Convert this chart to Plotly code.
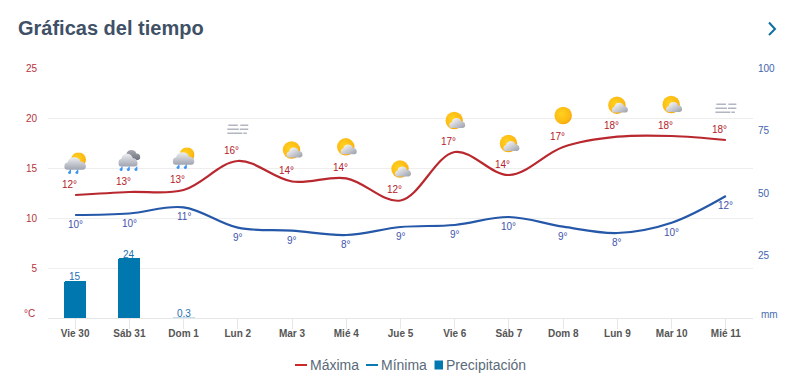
import base64
import plotly.graph_objects as go

days = ["Vie 30", "Sáb 31", "Dom 1", "Lun 2", "Mar 3", "Mié 4", "Jue 5", "Vie 6", "Sáb 7", "Dom 8", "Lun 9", "Mar 10", "Mié 11"]
t_max = [12.3, 12.6, 12.8, 15.7, 13.65, 13.97, 11.75, 16.6, 14.3, 17.1, 18.13, 18.2, 17.8]
t_min = [10.3, 10.45, 11.07, 9.03, 8.73, 8.3, 9.1, 9.3, 10.1, 9.13, 8.5, 9.53, 12.2]
max_labels = ["12°", "13°", "13°", "16°", "14°", "14°", "12°", "17°", "14°", "17°", "18°", "18°", "18°"]
min_labels = ["10°", "10°", "11°", "9°", "9°", "8°", "9°", "9°", "10°", "9°", "8°", "10°", "12°"]
precip = [15, 24, 0.3, None, None, None, None, None, None, None, None, None, None]
precip_labels = ["15", "24", "0.3", "", "", "", "", "", "", "", "", "", ""]
sky = ["rain_sun", "rain", "rain_sun", "fog", "partly", "partly", "partly", "partly", "partly", "sun", "partly", "partly", "fog"]

FONT = "Liberation Sans, Arial, sans-serif"
RED = "#b8282e"
BLUE = "#2558a8"
BAR = "#0077ae"
LEGEND_TEXT = "#5a6a7a"

W, H = 788, 384
L, R, T, B = 48, 35, 68, 66
PW, PH = W - L - R, H - T - B


def px(x):
    return (x - L) / PW


def py(y):
    return (H - B - y) / PH


DEFS = """<defs>
<radialGradient id="s" cx="0.4" cy="0.4" r="0.65"><stop offset="0" stop-color="#ffd21f"/><stop offset="0.75" stop-color="#fdb914"/><stop offset="1" stop-color="#f6a40c"/></radialGradient>
<linearGradient id="c" x1="0.1" y1="0.1" x2="0.9" y2="0.9"><stop offset="0" stop-color="#f8f8f9"/><stop offset="1" stop-color="#a4a8b2"/></linearGradient>
<linearGradient id="r" x1="0" y1="0" x2="0" y2="1"><stop offset="0" stop-color="#eceef1"/><stop offset="1" stop-color="#a0a4af"/></linearGradient>
<linearGradient id="d" x1="0" y1="0" x2="0" y2="1"><stop offset="0" stop-color="#a6a9b0"/><stop offset="1" stop-color="#6e727c"/></linearGradient>
</defs>"""


def cloud(x, y, w, h, fill):
    # unit cloud drawn in a 20x10 box, moved and scaled into place
    return (f'<g transform="translate({x} {y}) scale({w / 20} {h / 10})">'
            f'<path fill="{fill}" d="M2.8 10 C0.6 10 0 8.6 0 7.4 C0 5.4 1.2 4.2 3 4.2 C3.6 1.6 6 0 9 0 '
            f'C12.4 0 14.4 1.4 15.2 3.6 C18 3.4 20 5.2 20 7.4 C20 9 19 10 17.2 10 Z"/></g>')


def drop(x, y):
    return (f'<path fill="#3f95f2" d="M{x + 1.3} {y} L{x + 1.5} {y + 3.4} '
            f'C{x + 1.5} {y + 5.4} {x - 1.8} {y + 5.4} {x - 1.6} {y + 3.2} Z"/>')


def bars(rows):
    return "".join(f'<path stroke="#b2b6c0" stroke-width="1.6" d="M{a} {y} H{b}"/>' for y, a, b in rows)


ICONS = {
    "sun": '<circle cx="11" cy="11" r="8.7" fill="url(#s)"/>',
    "partly": '<circle cx="10.5" cy="11" r="8.7" fill="url(#s)"/>' + cloud(5.5, 8.6, 16, 9.8, "url(#c)"),
    "rain_sun": '<circle cx="14.4" cy="7.2" r="7.4" fill="url(#s)"/>' + cloud(0.2, 4.8, 21.6, 12.4, "url(#r)")
                + drop(5.5, 16.6) + drop(12.8, 16.6),
    "rain": cloud(5.5, 0.6, 16.5, 9.8, "url(#d)") + cloud(0, 4.2, 19.2, 12.8, "url(#r)")
            + drop(2.8, 16.6) + drop(10, 16.6) + drop(17.6, 16.6),
    "fog": bars([(6.8, 1.5, 11), (6.8, 13.5, 21.5), (10.8, 0.5, 12), (10.8, 13, 21.5), (14.8, 0.5, 15.5), (14.8, 16.5, 20)]),
}


def icon_uri(name):
    svg = f'<svg xmlns="http://www.w3.org/2000/svg" width="66" height="66" viewBox="0 0 22 22">{DEFS}{ICONS[name]}</svg>'
    return "data:image/svg+xml;base64," + base64.b64encode(svg.encode()).decode()


fig = go.Figure()
fig.add_trace(go.Bar(x=days, y=precip, yaxis="y2", name="Precipitación", width=0.406,
                     marker=dict(color=BAR, line=dict(width=0), cornerradius=2,
                                 opacity=[1, 1, 0.25] + [1] * 10)))
fig.add_trace(go.Scatter(x=days, y=t_max, name="Máxima", mode="lines",
                         line=dict(color=RED, width=2.2, shape="spline", smoothing=1)))
fig.add_trace(go.Scatter(x=days, y=t_min, name="Mínima", mode="lines",
                         line=dict(color=BLUE, width=2.2, shape="spline", smoothing=1)))

annotations = []
for d, v, lab in zip(days, t_max, max_labels):
    annotations.append(dict(x=d, y=v, xref="x", yref="y", text=lab, showarrow=False, xshift=-6, yshift=11,
                            font=dict(family=FONT, size=10, color="#b5202a")))
for d, v, lab in zip(days, t_min, min_labels):
    annotations.append(dict(x=d, y=v, xref="x", yref="y", text=lab, showarrow=False, yshift=-9.5,
                            font=dict(family=FONT, size=10, color="#3f55ad")))
for d, v, lab in zip(days, precip, precip_labels):
    if lab:
        annotations.append(dict(x=d, y=v, xref="x", yref="y2", text=lab, showarrow=False, yshift=4,
                                yanchor="middle", font=dict(family=FONT, size=10, color="#1f6fb2")))
annotations.append(dict(x=0, y=0, xref="paper", yref="paper", text="°C", showarrow=False, xanchor="right",
                        yanchor="middle", xshift=-11, yshift=5, font=dict(family=FONT, size=10, color="#b5343c")))
annotations.append(dict(x=1, y=0, xref="paper", yref="paper", text="mm", showarrow=False, xanchor="left",
                        yanchor="middle", xshift=6, yshift=4, font=dict(family=FONT, size=10, color="#4a6db0")))
for name, x0 in [("Máxima", 310), ("Mínima", 381), ("Precipitación", 446)]:
    annotations.append(dict(x=px(x0), y=py(365), xref="paper", yref="paper", text=name, showarrow=False,
                            xanchor="left", yanchor="middle", xshift=-2.5,
                            font=dict(family=FONT, size=14, color=LEGEND_TEXT)))

images = [dict(source=icon_uri(s), xref="x", yref="y", x=d, y=v + 3.15, sizex=0.406, sizey=2.2,
               xanchor="center", yanchor="middle", sizing="contain", layer="above")
          for d, v, s in zip(days, t_max, sky)]

shapes = [
    dict(type="path", xref="paper", yref="paper",
         path=f"M {px(769):.4f} {py(22.5):.4f} L {px(775):.4f} {py(29):.4f} L {px(769):.4f} {py(35):.4f}",
         line=dict(color="#0f6fa3", width=2)),
    dict(type="line", xref="paper", yref="paper", x0=px(295), x1=px(307), y0=py(365), y1=py(365),
         line=dict(color="#cc2a2a", width=2)),
    dict(type="line", xref="paper", yref="paper", x0=px(366), x1=px(378), y0=py(365), y1=py(365),
         line=dict(color="#0a7ab0", width=2)),
    dict(type="rect", xref="paper", yref="paper", x0=px(434.5), x1=px(443), y0=py(360.5), y1=py(369.5),
         fillcolor=BAR, line=dict(width=0)),
]

fig.update_layout(
    width=W, height=H, autosize=False,
    margin=dict(l=L, r=R, t=T, b=B, autoexpand=False),
    paper_bgcolor="#ffffff", plot_bgcolor="#ffffff",
    font=dict(family=FONT),
    showlegend=False,
    title=dict(text="<b>Gráficas del tiempo</b>", x=18 / W, y=1 - 28 / H, xanchor="left", yanchor="middle",
               xref="container", yref="container", font=dict(family=FONT, size=20, color="#3f5166")),
    bargap=0, barmode="overlay",
    xaxis=dict(type="category", categoryorder="array", categoryarray=days, range=[-0.5, 12.5],
               showgrid=False, zeroline=False, showline=True, linecolor="#e6e6e6", linewidth=1,
               ticks="outside", ticklen=10, tickcolor="#e6e6e6", tickwidth=1, ticklabelstandoff=-4,
               tickfont=dict(family=FONT, size=10, color="#555555", weight="bold")),
    yaxis=dict(range=[0, 25], tickvals=[5, 10, 15, 20, 25], showgrid=True, gridcolor="#eeeeee", gridwidth=1,
               zeroline=False, showline=False, ticks="", ticklabelstandoff=10,
               tickfont=dict(family=FONT, size=10, color="#b5343c")),
    yaxis2=dict(range=[0, 100], overlaying="y", side="right", tickvals=[25, 50, 75, 100], showgrid=False,
                zeroline=False, showline=False, ticks="", ticklabelstandoff=4,
                tickfont=dict(family=FONT, size=10, color="#3f65ad")),
    annotations=annotations,
    images=images,
    shapes=shapes,
)

fig.write_html("out.html", config=dict(displayModeBar=False), post_script="document.body.style.margin='0';")
